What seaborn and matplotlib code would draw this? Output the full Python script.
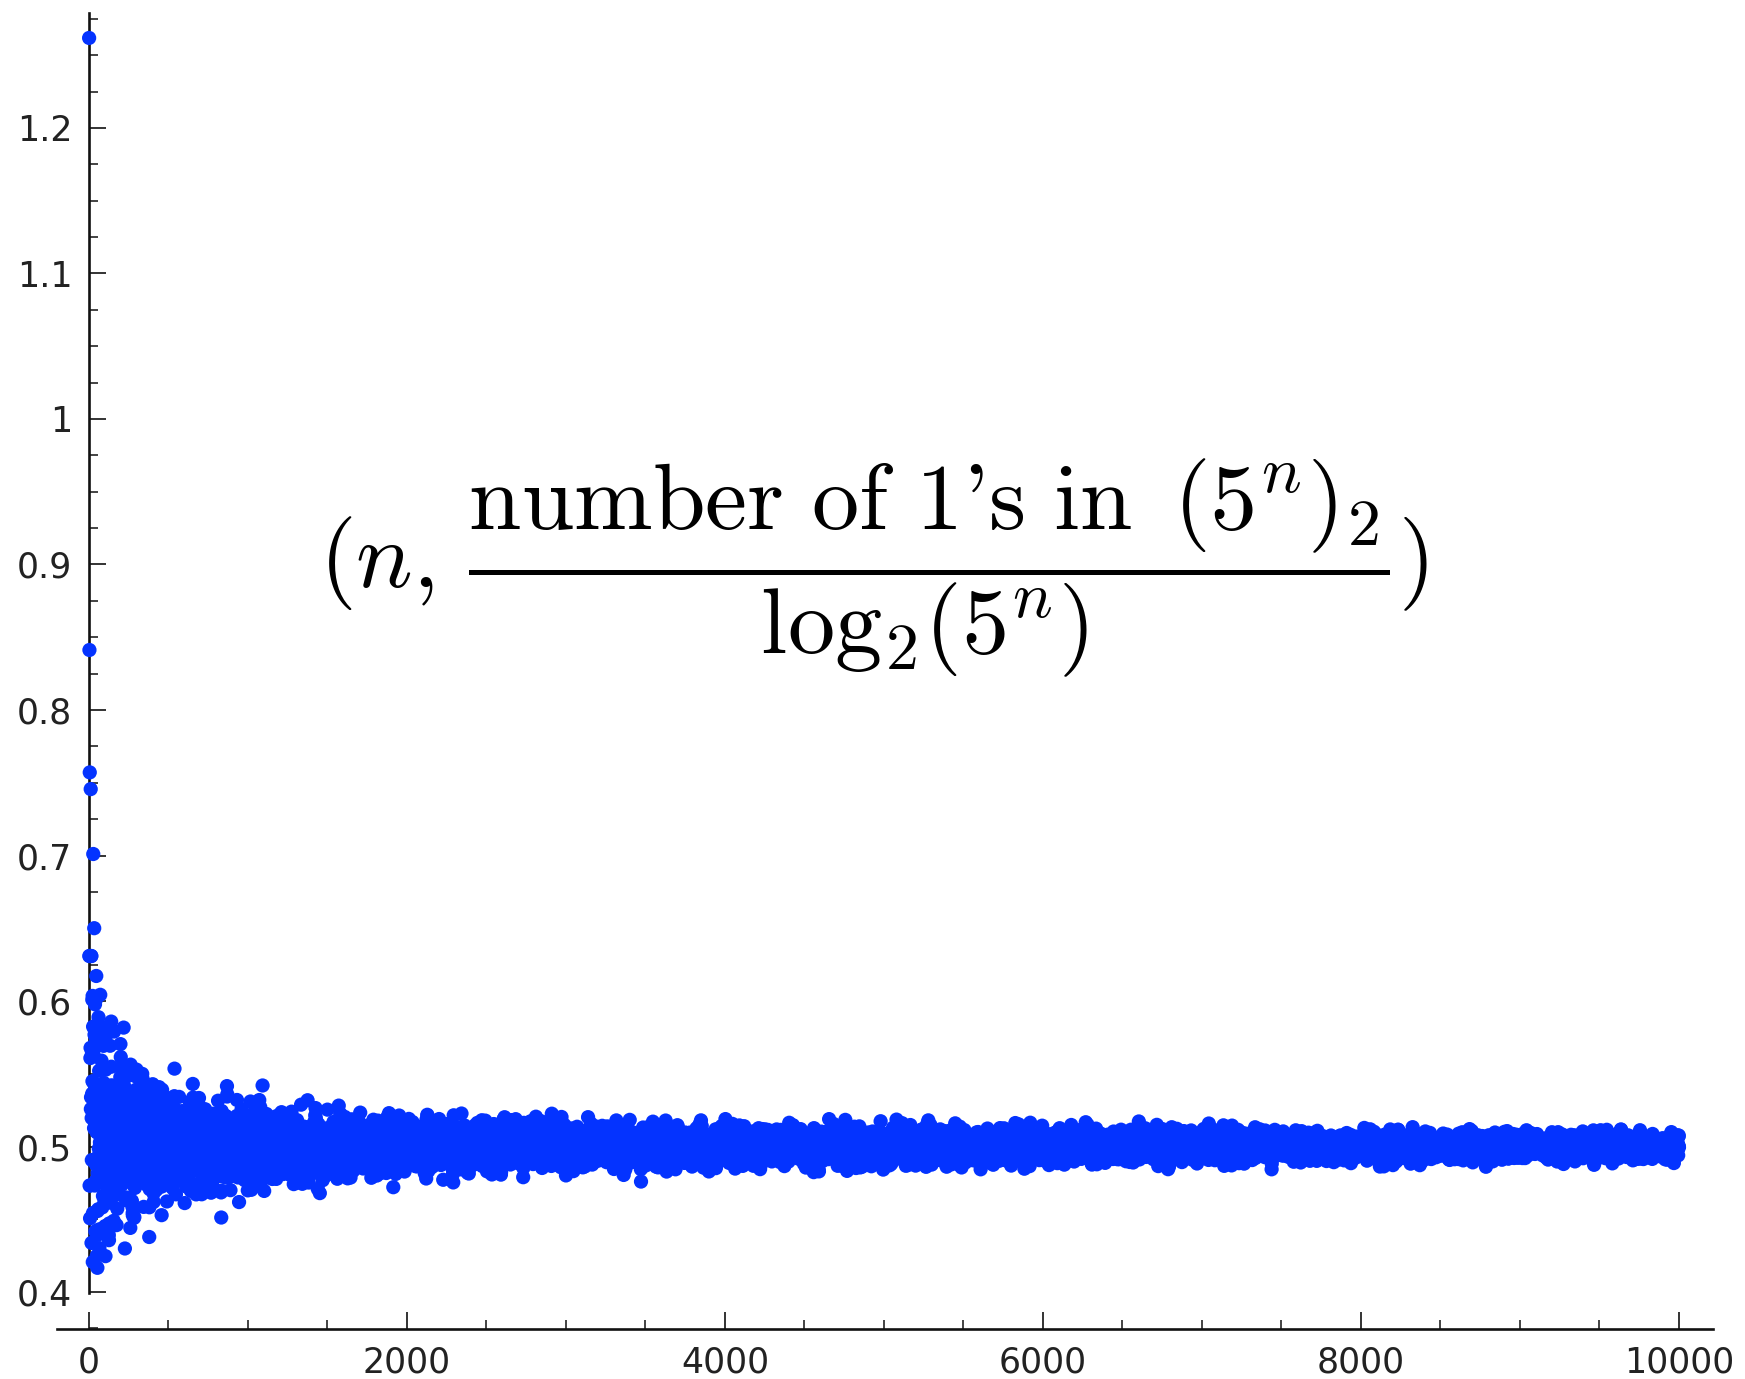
import matplotlib
matplotlib.use("Agg")
import matplotlib.pyplot as plt
import matplotlib.ticker as mticker
import numpy as np
import pandas as pd
import seaborn as sns

# ---- data: (n, number of 1's in binary / log2 of the power), n = 1..10000
# The plotted values are the exact digit counts (the cloud matches base 3:
# first points 1.26, 0.63, 0.84, 0.47, 0.76 ...).
BASE = 3
N_MAX = 10000
n_values = list(range(1, N_MAX + 1))
ones_count = []
_p = 1
for _n in n_values:
    _p *= BASE
    ones_count.append(_p.bit_count())
log2_power = [k * np.log2(BASE) for k in n_values]
ratio = [c / l for c, l in zip(ones_count, log2_power)]

x_ticks = [0, 2000, 4000, 6000, 8000, 10000]
y_ticks = [0.4, 0.5, 0.6, 0.7, 0.8, 0.9, 1.0, 1.1, 1.2]
title_tex = (r"$(n,\,\dfrac{\mathrm{number\ of\ 1\text{'}s\ in\ }\,(5^n)_2}"
             r"{\mathrm{log}_2(5^n)})$")

df = pd.DataFrame({"n": n_values, "ratio": ratio})

sns.set_style("white")
plt.rcParams["font.family"] = ["DejaVu Sans"]
plt.rcParams["mathtext.fontset"] = "cm"

W, H = 1745, 1379
fig = plt.figure(figsize=(W / 100, H / 100), dpi=100)
ax = fig.add_axes([57 / W, (H - 1329) / H, (1713 - 57) / W, (1329 - 13) / H])

sns.scatterplot(data=df, x="n", y="ratio", color="#0433ff", s=105,
                linewidth=0, edgecolor="none", ax=ax, zorder=3, legend=False)

ax.set_xlim(-201, 10214)
ax.set_ylim(0.3746, 1.279)

for s in ["top", "right"]:
    ax.spines[s].set_visible(False)
ax.spines["left"].set_position(("data", 0))
ax.spines["left"].set_bounds(0.399, 1.279)
for s in ["left", "bottom"]:
    ax.spines[s].set_linewidth(1.9)
    ax.spines[s].set_color("#111111")

ax.set_xticks(x_ticks)
ax.set_yticks(y_ticks)
ax.xaxis.set_minor_locator(mticker.MultipleLocator(500))
ax.yaxis.set_minor_locator(mticker.MultipleLocator(0.025))
ax.yaxis.set_major_formatter(mticker.FuncFormatter(lambda v, p: "%g" % v))
ax.xaxis.set_major_formatter(mticker.FuncFormatter(lambda v, p: "%d" % v))

ax.tick_params(axis="x", which="both", bottom=True, top=False)
ax.tick_params(axis="y", which="both", left=True, right=False)
ax.tick_params(which="major", direction="in", length=12, width=1.2,
               color="#111111", labelsize=25, labelcolor="#222222", pad=12)
ax.tick_params(which="minor", direction="in", length=6.5, width=1.1,
               color="#111111")

ax.set_xlabel("")
ax.set_ylabel("")

ax.text(4937, 0.898, title_tex, fontsize=68, ha="center", va="center",
        color="black")

fig.savefig("out.png", dpi=100, facecolor="white")
